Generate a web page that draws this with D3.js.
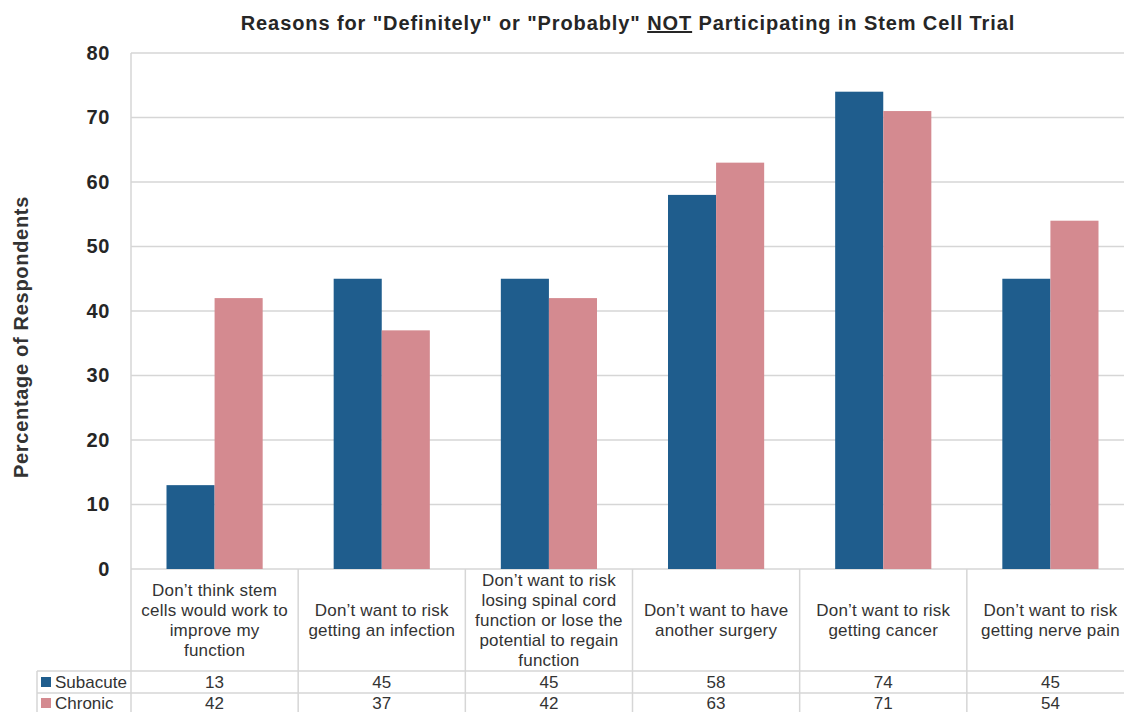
<!DOCTYPE html>
<html><head><meta charset="utf-8">
<script src="https://cdn.jsdelivr.net/npm/d3@7"></script>
<style>body{margin:0;background:#fff}svg{display:block}</style>
</head><body>
<svg id="c" width="1124" height="712"></svg>
<script>
const categories = [
  ["Don’t think stem","cells would work to","improve my","function"],
  ["Don’t want to risk","getting an infection"],
  ["Don’t want to risk","losing spinal cord","function or lose the","potential to regain","function"],
  ["Don’t want to have","another surgery"],
  ["Don’t want to risk","getting cancer"],
  ["Don’t want to risk","getting nerve pain"]
];
const seriesNames = ["Subacute","Chronic"];
const subacute = [13,45,45,58,74,45];
const chronic = [42,37,42,63,71,54];
const yTicks = [0,10,20,30,40,50,60,70,80];
const colors = ["#1f5d8d","#d48a90"];

(function(){
const svg = d3.select("#c");
const pL=131, pR=1134, pT=53, pB=569;
const idx = d3.range(categories.length);
const x0 = d3.scaleBand().domain(idx).range([pL,pR]).padding(0);
const x1 = d3.scaleBand().domain(seriesNames).range([35.5, x0.bandwidth()-35.5]).padding(0);
const y = d3.scaleLinear().domain([0,80]).range([pB,pT]);
const grid="#d6d6d6";
const fam="Liberation Sans, Arial, sans-serif";

svg.append("g").selectAll("line").data(yTicks).join("line")
  .attr("x1",pL).attr("x2",pR).attr("y1",d=>y(d)).attr("y2",d=>y(d))
  .attr("stroke",grid).attr("stroke-width",1.5);
svg.append("line").attr("x1",pL).attr("x2",pL).attr("y1",pT).attr("y2",712).attr("stroke",grid).attr("stroke-width",1.5);

const yAxis = d3.axisLeft(y).tickValues(yTicks).tickSize(0).tickPadding(21);
const ga = svg.append("g").attr("transform",`translate(${pL},0)`).call(yAxis);
ga.select(".domain").remove();
ga.selectAll("text").attr("font-family",fam)
  .attr("font-size",20).attr("letter-spacing",0.6).attr("font-weight","bold").attr("fill","#262626");

const data = [subacute, chronic];
const gb = svg.append("g");
idx.forEach(i=>{
  seriesNames.forEach((s,j)=>{
    gb.append("rect").attr("x",x0(i)+x1(s)).attr("width",x1.bandwidth())
      .attr("y",y(data[j][i])).attr("height",y(0)-y(data[j][i])).attr("fill",colors[j]);
  });
});

const rowTop=671, rowMid=693, rowBot=712;
idx.forEach(i=>{
  svg.append("line").attr("x1",x0(i)+x0.bandwidth()).attr("x2",x0(i)+x0.bandwidth())
    .attr("y1",pB).attr("y2",rowBot).attr("stroke",grid).attr("stroke-width",1.5);
});
[rowTop,rowMid].forEach(yy=>svg.append("line").attr("x1",37).attr("x2",pR).attr("y1",yy).attr("y2",yy).attr("stroke",grid).attr("stroke-width",1.5));
svg.append("line").attr("x1",37).attr("x2",37).attr("y1",rowTop).attr("y2",rowBot).attr("stroke",grid).attr("stroke-width",1.5);

idx.forEach(i=>{
  const lines=categories[i];
  const cx=x0(i)+x0.bandwidth()/2;
  const lh=20.2, cy=(pB+rowTop)/2;
  const t=svg.append("text").attr("text-anchor","middle").attr("font-family",fam)
    .attr("font-size",17).attr("letter-spacing",0.2).attr("fill","#333");
  lines.forEach((l,k)=>{
    t.append("tspan").attr("x",cx).attr("y",cy+(k-(lines.length-1)/2)*lh).attr("dy","0.35em").text(l);
  });
});

[rowTop,rowMid].forEach((yy,j)=>{
  const yc = j===0 ? (rowTop+rowMid)/2 : (rowMid+rowBot)/2+0.5;
  svg.append("rect").attr("x",41).attr("y",yc-5).attr("width",10).attr("height",10).attr("fill",colors[j]);
  svg.append("text").attr("x",55).attr("y",yc).attr("dy","0.35em").attr("font-family",fam)
    .attr("font-size",17).attr("fill","#333").text(seriesNames[j]);
  idx.forEach(i=>{
    svg.append("text").attr("x",x0(i)+x0.bandwidth()/2).attr("y",yc).attr("dy","0.35em")
      .attr("text-anchor","middle").attr("font-family",fam).attr("font-size",17).attr("fill","#333").text(data[j][i]);
  });
});

svg.append("text").attr("transform","translate(28,337) rotate(-90)").attr("text-anchor","middle")
  .attr("font-family",fam).attr("font-size",20).attr("letter-spacing",0.7).attr("font-weight","bold").attr("fill","#333")
  .text("Percentage of Respondents");

const tt=svg.append("text").attr("x",628).attr("y",30).attr("text-anchor","middle")
  .attr("font-family",fam).attr("font-size",20).attr("letter-spacing",0.9).attr("font-weight","bold").attr("fill","#262626");
tt.append("tspan").text("Reasons for \"Definitely\" or \"Probably\" ");
tt.append("tspan").attr("text-decoration","underline").style("text-decoration","underline").text("NOT");
tt.append("tspan").text(" Participating in Stem Cell Trial");
})();
</script>
</body></html>
